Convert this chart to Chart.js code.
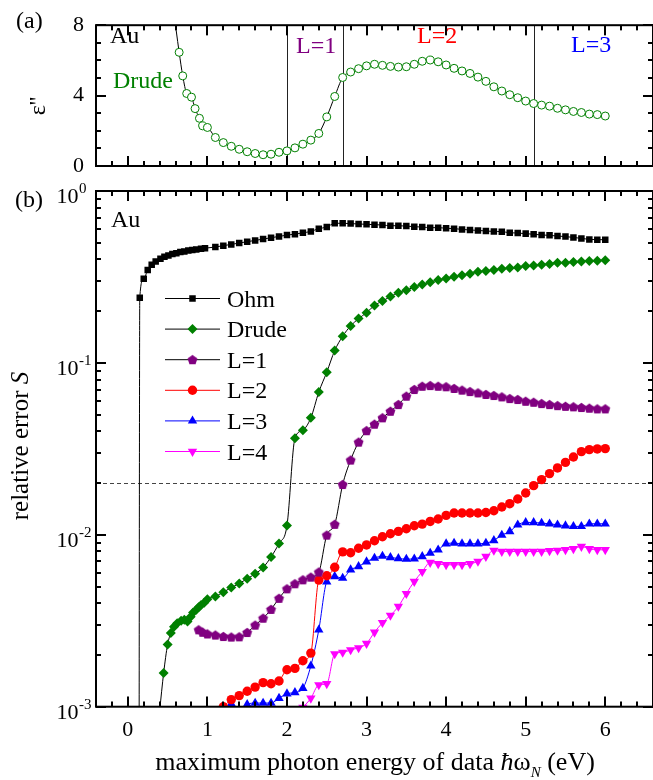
<!DOCTYPE html>
<html>
<head>
<meta charset="utf-8">
<script src="https://cdn.jsdelivr.net/npm/chart.js@4.4.1/dist/chart.umd.min.js"></script>
<style>
  html, body { margin: 0; padding: 0; background: #fff; }
  #wrap { position: relative; width: 653px; height: 780px; overflow: hidden; }
  #wrap canvas { position: absolute; left: 0; top: 0; }
</style>
</head>
<body>
<div id="wrap">
  <canvas id="epsChart" width="653" height="780"></canvas>
  <canvas id="errChart" width="653" height="780"></canvas>
</div>
<script>
const SERIF = "'Liberation Serif', 'Times New Roman', serif";

// ---- (a) imaginary part of the permittivity of Au ----
const epsEnergy = [0.57, 0.645, 0.69, 0.74, 0.80, 0.845, 0.90, 0.94, 1.0,
  1.1, 1.2, 1.3, 1.4, 1.5, 1.6, 1.7, 1.8, 1.9, 2.0,
  2.1, 2.2, 2.3, 2.4, 2.5, 2.6, 2.7, 2.8, 2.9, 3.0,
  3.1, 3.2, 3.3, 3.4, 3.5, 3.6, 3.7, 3.8, 3.9, 4.0,
  4.1, 4.2, 4.3, 4.4, 4.5, 4.6, 4.7, 4.8, 4.9, 5.0,
  5.1, 5.2, 5.3, 5.4, 5.5, 5.6, 5.7, 5.8, 5.9, 6.0];
const epsValues = [9.0, 6.46, 5.12, 4.12, 3.91, 3.26, 2.71, 2.28, 2.19,
  1.62, 1.33, 1.12, 0.95, 0.81, 0.71, 0.64, 0.67, 0.78, 0.86,
  1.03, 1.24, 1.47, 1.85, 2.79, 3.95, 5.03, 5.34, 5.53, 5.69,
  5.78, 5.72, 5.66, 5.62, 5.64, 5.78, 5.95, 6.02, 5.92, 5.74,
  5.55, 5.40, 5.26, 5.05, 4.81, 4.50, 4.26, 4.05, 3.88, 3.69,
  3.55, 3.46, 3.40, 3.28, 3.19, 3.10, 3.04, 2.95, 2.92, 2.84];
const regionBounds = [2.0, 2.7, 5.1];
const epsTicks = [0, 4, 8];

// ---- (b) relative error S of each model ----
const gridE = [1.1, 1.2, 1.3, 1.4, 1.5, 1.6, 1.7, 1.8, 1.9, 2.0,
  2.1, 2.2, 2.3, 2.4, 2.5, 2.6, 2.7, 2.8, 2.9, 3.0,
  3.1, 3.2, 3.3, 3.4, 3.5, 3.6, 3.7, 3.8, 3.9, 4.0,
  4.1, 4.2, 4.3, 4.4, 4.5, 4.6, 4.7, 4.8, 4.9, 5.0,
  5.1, 5.2, 5.3, 5.4, 5.5, 5.6, 5.7, 5.8, 5.9, 6.0];

const ohmEnergy = [0.14, 0.15, 0.20, 0.25, 0.30, 0.35, 0.41, 0.46, 0.51, 0.56, 0.61,
  0.66, 0.71, 0.76, 0.81, 0.86, 0.92, 0.97].concat(gridE);
const ohmValues = [0.0001, 0.239, 0.309, 0.347, 0.372, 0.389, 0.404, 0.415, 0.422, 0.430, 0.435,
  0.441, 0.445, 0.450, 0.453, 0.457, 0.461, 0.465,
  0.472, 0.481, 0.489, 0.498, 0.507, 0.516, 0.525, 0.535, 0.544, 0.554,
  0.561, 0.571, 0.582, 0.604, 0.617, 0.649, 0.649, 0.646, 0.643, 0.640,
  0.637, 0.634, 0.628, 0.628, 0.625, 0.620, 0.617, 0.612, 0.612, 0.607,
  0.604, 0.598, 0.593, 0.590, 0.585, 0.582, 0.580, 0.572, 0.569, 0.565,
  0.560, 0.555, 0.552, 0.547, 0.543, 0.537, 0.530, 0.523, 0.521, 0.521];

const drudeEnergy = [0.40, 0.45, 0.50, 0.54, 0.58, 0.62, 0.67, 0.71, 0.75, 0.79, 0.82,
  0.86, 0.89, 0.92, 0.96, 1.0].concat(gridE);
const drudeValues = [0.00095, 0.00157, 0.00230, 0.00268, 0.00292, 0.00306, 0.00316, 0.00320,
  0.00313, 0.00334, 0.00353, 0.00366, 0.00379, 0.00391, 0.00403, 0.00422,
  0.00437, 0.00464, 0.00493, 0.00521, 0.00555, 0.00593, 0.00645, 0.00743, 0.00891, 0.01133,
  0.0364, 0.0406, 0.0479, 0.0677, 0.0883, 0.118, 0.143, 0.164, 0.181, 0.196,
  0.216, 0.229, 0.243, 0.256, 0.265, 0.276, 0.286, 0.295, 0.304, 0.310,
  0.317, 0.324, 0.330, 0.339, 0.342, 0.347, 0.353, 0.356, 0.359, 0.366,
  0.369, 0.372, 0.376, 0.383, 0.383, 0.386, 0.389, 0.391, 0.393, 0.395];

const l1Energy = [0.89, 0.94, 1.0].concat(gridE);
const l1Values = [0.00280, 0.00271, 0.00265,
  0.00261, 0.00256, 0.00254, 0.00255, 0.00270, 0.00298, 0.00327, 0.00368, 0.00427, 0.00485,
  0.00519, 0.00547, 0.00567, 0.00607, 0.00995, 0.0115, 0.0196, 0.0272, 0.0346, 0.0403,
  0.0440, 0.0479, 0.0523, 0.0572, 0.0640, 0.0700, 0.0731, 0.0738, 0.0731, 0.0726,
  0.0710, 0.0694, 0.0681, 0.0669, 0.0655, 0.0646, 0.0634, 0.0620, 0.0612, 0.0598,
  0.0590, 0.0580, 0.0572, 0.0564, 0.0559, 0.0555, 0.0550, 0.0545, 0.0540, 0.0540];

const l2Energy = gridE.slice(1);
const l2Values = [0.00100, 0.00110, 0.00116, 0.00123, 0.00130, 0.00138, 0.00136, 0.00141, 0.00164,
  0.00167, 0.00185, 0.00205, 0.00545, 0.00578, 0.00647, 0.00796, 0.00786, 0.00835, 0.00873,
  0.00923, 0.00974, 0.01014, 0.01047, 0.01084, 0.01129, 0.01154, 0.01196, 0.01236, 0.01297,
  0.01340, 0.01340, 0.01340, 0.01340, 0.01349, 0.01380, 0.01452, 0.01517, 0.01616, 0.01750,
  0.01931, 0.02094, 0.02270, 0.02449, 0.02637, 0.02836, 0.03046, 0.03129, 0.03159, 0.03172];

const l3Energy = gridE.slice(2);
const l3Values = [0.00104, 0.00090, 0.00103, 0.00105, 0.00105, 0.00105, 0.00112, 0.00119,
  0.00121, 0.00128, 0.00173, 0.00280, 0.00533, 0.00572, 0.00560, 0.00626, 0.00654, 0.00697,
  0.00732, 0.00752, 0.00738, 0.00728, 0.00722, 0.00725, 0.00748, 0.00783, 0.00818, 0.00887,
  0.00895, 0.00887, 0.00887, 0.00887, 0.00895, 0.00927, 0.00996, 0.01045, 0.01143, 0.01180,
  0.01180, 0.01170, 0.01159, 0.01143, 0.01129, 0.01119, 0.01119, 0.01159, 0.01159, 0.01159];

const l4Energy = gridE.slice(11);
const l4Values = [0.00099, 0.00112, 0.00134, 0.00136, 0.00203, 0.00207, 0.00214, 0.00220, 0.00233,
  0.00271, 0.00308, 0.00340, 0.00383, 0.00455, 0.00535, 0.00611, 0.00690, 0.00678, 0.00669,
  0.00669, 0.00669, 0.00678, 0.00700, 0.00748, 0.00811, 0.00799, 0.00799, 0.00799, 0.00799,
  0.00799, 0.00799, 0.00807, 0.00811, 0.00818, 0.00829, 0.00855, 0.00829, 0.00818, 0.00818];

const seriesNames = ['Ohm', 'Drude', 'L=1', 'L=2', 'L=3', 'L=4'];
const errDecades = [-3, -2, -1, 0];
const errThreshold = 0.02;
const xTickValues = [0, 1, 2, 3, 4, 5, 6];

const X_MIN = -0.4, X_MAX = 6.6;
const GREEN = '#008000', PURPLE = '#800080', RED = '#ff0000', BLUE = '#0000ff', MAGENTA = '#ff00ff';

const pts = (xs, ys) => xs.map((x, i) => ({ x, y: ys[i] }));

// pentagon marker for the L=1 series
function pentagonMarker(color, r) {
  const c = document.createElement('canvas');
  const s = Math.ceil(2 * r + 2);
  c.width = s; c.height = s;
  const g = c.getContext('2d');
  g.fillStyle = color;
  g.beginPath();
  for (let k = 0; k < 5; k++) {
    const a = -Math.PI / 2 + k * 2 * Math.PI / 5;
    const px = s / 2 + r * Math.cos(a), py = s / 2 + r * Math.sin(a) + 0.4;
    if (k === 0) g.moveTo(px, py); else g.lineTo(px, py);
  }
  g.closePath();
  g.fill();
  return c;
}

function text(ctx, str, x, y, font, color, align) {
  ctx.font = font; ctx.fillStyle = color || '#000';
  ctx.textAlign = align || 'left'; ctx.textBaseline = 'alphabetic';
  ctx.fillText(str, x, y);
}

// draws a run of differently styled pieces centred on cx
function richText(ctx, parts, cx, y) {
  let w = 0;
  parts.forEach(p => { ctx.font = p.font; p.w = ctx.measureText(p.t).width; w += p.w; });
  let x = cx - w / 2;
  ctx.textAlign = 'left'; ctx.textBaseline = 'alphabetic'; ctx.fillStyle = '#000';
  parts.forEach(p => { ctx.font = p.font; ctx.fillText(p.t, x, y + (p.dy || 0)); x += p.w; });
}

// inward tick marks (x, y, w, h rectangles) along the top and bottom edges
function xEdgeTickRects(a, xs, out) {
  for (let i = -2; i <= 33; i++) {
    const v = i * 0.2;
    const px = Math.round(xs.getPixelForValue(v)) - 1;
    const L = (i % 5 === 0) ? 10 : 5;
    out.push([px, a.bottom - L, 2, L]);
    out.push([px, a.top, 2, L]);
  }
}

function yEdgeTick(a, py, L, out) {
  const ry = Math.round(py) - 1;
  out.push([a.left, ry, L, 2]);
  out.push([a.right - L, ry, L, 2]);
}

function paintTicks(ctx, rects) {
  ctx.save();
  ctx.setTransform(1, 0, 0, 1, 0, 0);
  ctx.globalAlpha = 1;
  ctx.globalCompositeOperation = 'source-over';
  ctx.fillStyle = '#000';
  rects.forEach(r => ctx.fillRect(r[0], r[1], r[2], r[3]));
  ctx.restore();
}

function frame(ctx, a) {
  ctx.lineWidth = 2;
  ctx.strokeStyle = '#000';
  ctx.strokeRect(a.left, a.top, a.right - a.left, a.bottom - a.top);
}

const baseX = {
  type: 'linear', min: X_MIN, max: X_MAX,
  grid: { display: false, drawTicks: false },
  border: { display: false }
};

// ---------- panel (a) ----------
function epsTickRects(chart) {
  const { chartArea: a, scales: { x, y } } = chart;
  const rects = [];
  xEdgeTickRects(a, x, rects);
  for (let v = 0; v <= 8; v++) yEdgeTick(a, y.getPixelForValue(v), v % 4 === 0 ? 10 : 5, rects);
  return rects;
}

const epsPanel = {
  id: 'epsPanel',
  beforeDatasetsDraw(chart) {
    const { ctx, chartArea: a, scales: { x } } = chart;
    ctx.save();
    ctx.fillStyle = '#222';
    regionBounds.forEach(v => {
      const px = Math.round(x.getPixelForValue(v));
      ctx.fillRect(px, a.top, 1, a.bottom - a.top);
    });
    ctx.restore();
  },
  afterDatasetsDraw(chart) {
    paintTicks(chart.ctx, epsTickRects(chart));
  },
  afterDraw(chart) {
    const { ctx, chartArea: a } = chart;
    ctx.save();
    frame(ctx, a);
    const f = `24px ${SERIF}`;
    text(ctx, '(a)', 16, 28, f);
    text(ctx, 'Au', 110, 43, f);
    text(ctx, 'Drude', 113, 88, f, GREEN);
    text(ctx, 'L=1', 296, 53, f, PURPLE);
    text(ctx, 'L=2', 417, 43, f, RED);
    text(ctx, 'L=3', 571, 52, f, BLUE);

    ctx.save();
    ctx.translate(45, 106);
    ctx.rotate(-Math.PI / 2);
    text(ctx, "\u03b5''", 0, 0, `24px ${SERIF}`, '#000', 'center');
    ctx.restore();
    ctx.restore();
    paintTicks(ctx, epsTickRects(chart));
  }
};

new Chart(document.getElementById('epsChart'), {
  type: 'scatter',
  data: {
    datasets: [{
      data: pts(epsEnergy, epsValues),
      showLine: true,
      borderColor: '#000', borderWidth: 1,
      cubicInterpolationMode: 'monotone',
      pointStyle: 'circle', pointRadius: 4,
      pointBackgroundColor: '#fff', pointBorderColor: GREEN, pointBorderWidth: 1
    }]
  },
  options: {
    responsive: false, animation: false, events: [],
    layout: { autoPadding: false, padding: { top: 11, bottom: 614, left: 0, right: -1.5 } },
    plugins: { legend: { display: false }, tooltip: { enabled: false } },
    scales: {
      x: { ...baseX, ticks: { display: false }, afterFit: s => { s.height = 0; } },
      y: {
        type: 'linear', min: 0, max: 8,
        grid: { display: false, drawTicks: false }, border: { display: false },
        afterBuildTicks: s => { s.ticks = epsTicks.map(v => ({ value: v })); },
        ticks: { font: { family: SERIF, size: 22 }, color: '#000', padding: 12 },
        afterFit: s => { s.width = 96; }
      }
    }
  },
  plugins: [epsPanel]
});

// ---------- panel (b) ----------
function errTickRects(chart) {
  const { chartArea: a, scales: { x, y } } = chart;
  const rects = [];
  xEdgeTickRects(a, x, rects);
  errDecades.forEach(d => {
    const base = Math.pow(10, d);
    yEdgeTick(a, y.getPixelForValue(base), 10, rects);
    if (d < 0) {
      for (let k = 2; k <= 9; k++) yEdgeTick(a, y.getPixelForValue(k * base), 5, rects);
    }
  });
  return rects;
}

const errPanel = {
  id: 'errPanel',
  beforeDatasetsDraw(chart) {
    const { ctx, chartArea: a, scales: { y } } = chart;
    const py = Math.round(y.getPixelForValue(errThreshold)) + 0.5;
    ctx.save();
    ctx.strokeStyle = '#444'; ctx.lineWidth = 1; ctx.setLineDash([4, 3]);
    ctx.beginPath(); ctx.moveTo(a.left, py); ctx.lineTo(a.right, py); ctx.stroke();
    ctx.restore();
  },
  afterDatasetsDraw(chart) {
    paintTicks(chart.ctx, errTickRects(chart));
  },
  afterDraw(chart) {
    const { ctx, chartArea: a, scales: { y } } = chart;
    ctx.save();
    errDecades.forEach(d => {
      const py = y.getPixelForValue(Math.pow(10, d));
      // decade label: 10 with raised exponent
      text(ctx, '10', 78.5, py + 12, `22px ${SERIF}`, '#000', 'right');
      text(ctx, d === 0 ? '0' : '-' + (-d), 79, py + 2, `15px ${SERIF}`, '#000', 'left');
    });
    frame(ctx, a);

    const f = `24px ${SERIF}`;
    text(ctx, '(b)', 15, 207, f);
    text(ctx, 'Au', 111, 227, f);

    // legend
    const drawPoint = Chart.helpers.drawPoint;
    chart.data.datasets.forEach((ds, i) => {
      const ry = 298.5 + i * 30.6;
      ctx.save();
      ctx.strokeStyle = ds.borderColor; ctx.lineWidth = 1;
      ctx.beginPath(); ctx.moveTo(165, ry); ctx.lineTo(220, ry); ctx.stroke();
      ctx.fillStyle = ds.pointBackgroundColor;
      ctx.strokeStyle = ds.pointBackgroundColor;
      drawPoint(ctx, { pointStyle: ds.pointStyle, rotation: ds.pointRotation || 0,
        radius: ds.pointRadius, borderWidth: 0 }, 192.5, ry);
      ctx.restore();
      text(ctx, seriesNames[i], 227, ry + 8, f);
    });

    // axis titles
    ctx.save();
    ctx.translate(28, 446);
    ctx.rotate(-Math.PI / 2);
    richText(ctx, [
      { t: 'relative error ', font: `25px ${SERIF}` },
      { t: 'S', font: `italic 25px ${SERIF}` }
    ], 0, 0);
    ctx.restore();

    richText(ctx, [
      { t: 'maximum photon energy of data ', font: `26px ${SERIF}` },
      { t: '\u0127', font: `italic 26px ${SERIF}` },
      { t: '\u03c9', font: `26px ${SERIF}` },
      { t: 'N', font: `italic 15px ${SERIF}`, dy: 7 },
      { t: ' (eV)', font: `26px ${SERIF}` }
    ], 375, 770);
    ctx.restore();
    paintTicks(ctx, errTickRects(chart));
  }
};

const lineSet = (label, xs, ys, lineColor, style, color, radius, rotation) => ({
  label, data: pts(xs, ys), showLine: true,
  borderColor: lineColor, borderWidth: 1,
  cubicInterpolationMode: 'monotone',
  pointStyle: style, pointRadius: radius, pointRotation: rotation || 0,
  pointBackgroundColor: color, pointBorderColor: color, pointBorderWidth: 0
});

new Chart(document.getElementById('errChart'), {
  type: 'scatter',
  data: {
    datasets: [
      lineSet(seriesNames[0], ohmEnergy, ohmValues, '#000', 'rect', '#000', 4.6),
      lineSet(seriesNames[1], drudeEnergy, drudeValues, '#000', 'rectRot', GREEN, 5),
      lineSet(seriesNames[2], l1Energy, l1Values, '#000', pentagonMarker(PURPLE, 5.2), PURPLE, 5),
      lineSet(seriesNames[3], l2Energy, l2Values, RED, 'circle', RED, 4.7),
      lineSet(seriesNames[4], l3Energy, l3Values, BLUE, 'triangle', BLUE, 5.4),
      lineSet(seriesNames[5], l4Energy, l4Values, MAGENTA, 'triangle', MAGENTA, 5.4, 180)
    ]
  },
  options: {
    responsive: false, animation: false, events: [],
    layout: { autoPadding: false, padding: { top: 191, bottom: 0, left: 0, right: -1.5 } },
    plugins: { legend: { display: false }, tooltip: { enabled: false } },
    scales: {
      x: {
        ...baseX,
        afterBuildTicks: s => { s.ticks = xTickValues.map(v => ({ value: v })); },
        ticks: { font: { family: SERIF, size: 22 }, color: '#000', padding: 10, maxRotation: 0 },
        afterFit: s => { s.height = 73.3; }
      },
      y: {
        type: 'logarithmic', min: 0.001, max: 1,
        grid: { display: false, drawTicks: false }, border: { display: false },
        afterBuildTicks: s => { s.ticks = errDecades.map(d => ({ value: Math.pow(10, d) })); },
        ticks: { display: false },
        afterFit: s => { s.width = 96; }
      }
    }
  },
  plugins: [errPanel]
});
</script>
</body>
</html>
